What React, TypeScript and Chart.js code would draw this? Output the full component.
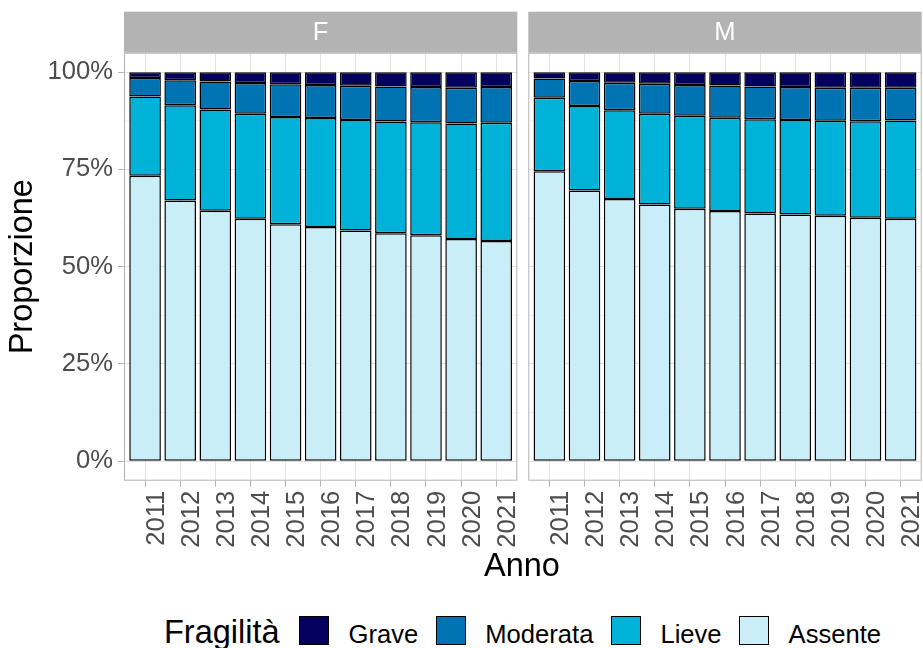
import React, { useEffect, useRef } from "react";
import { Chart, registerables } from "chart.js";

Chart.register(...registerables);

// ---------- data ----------
const years = ["2011", "2012", "2013", "2014", "2015", "2016", "2017", "2018", "2019", "2020", "2021"];
const levels = ["Grave", "Moderata", "Lieve", "Assente"];
const levelColors = ["#03005E", "#0073B2", "#00B2D8", "#C9EEF7"];

// Panel F (percent)
const fAssente = [73.4, 67.0, 64.4, 62.3, 60.9, 60.2, 59.3, 58.6, 58.1, 57.1, 56.6];
const fLieve = [20.35, 24.5, 26.0, 27.0, 27.6, 28.0, 28.4, 28.7, 29.0, 29.7, 30.4];
const fModerata = [4.75, 6.4, 7.2, 7.9, 8.4, 8.5, 8.8, 9.0, 9.1, 9.2, 9.2];
const fGrave = [1.5, 2.1, 2.4, 2.8, 3.1, 3.3, 3.5, 3.7, 3.8, 4.0, 3.8];

// Panel M (percent)
const mAssente = [74.5, 69.6, 67.4, 66.0, 64.9, 64.3, 63.7, 63.4, 63.1, 62.6, 62.3];
const mLieve = [18.9, 21.7, 22.8, 23.3, 23.9, 24.0, 24.2, 24.3, 24.4, 24.8, 25.3];
const mModerata = [5.0, 6.4, 7.1, 7.7, 7.9, 8.3, 8.4, 8.5, 8.5, 8.6, 8.4];
const mGrave = [1.6, 2.3, 2.7, 3.0, 3.3, 3.4, 3.7, 3.8, 4.0, 4.0, 4.0];

const yGridTicks = [0, 12.5, 25, 37.5, 50, 62.5, 75, 87.5, 100];
const yLabelTicks = [0, 25, 50, 75, 100];

const FONT = "'Liberation Sans', Arial, sans-serif";
const TICK_SIZE = 25.6;
const TITLE_SIZE = 32.5;
const GRID_MAJOR = "#E2E2E2";
const GRID_MINOR = "#EFEFEF";
const GREY70 = "#B3B3B3";
const TEXT_GREY = "#4D4D4D";

const CANVAS_H = 560;
const PANEL_TOP = 52.7;
const PANEL_BOTTOM = 480.7;
const STRIP_TOP = 11.7;

type PanelProps = {
  label: string;
  assente: number[];
  lieve: number[];
  moderata: number[];
  grave: number[];
  left: number;
  width: number;
  areaLeft: number;
  areaRight: number;
  showY: boolean;
};

function Panel(p: PanelProps) {
  const ref = useRef<HTMLCanvasElement | null>(null);

  useEffect(() => {
    if (!ref.current) return;
    const series = [
      { name: "Assente", values: p.assente, color: levelColors[3] },
      { name: "Lieve", values: p.lieve, color: levelColors[2] },
      { name: "Moderata", values: p.moderata, color: levelColors[1] },
      { name: "Grave", values: p.grave, color: levelColors[0] },
    ];

    const panelPlugin = {
      id: "panel" + p.label,
      beforeDraw(chart: any) {
        const { ctx, chartArea: a } = chart;
        ctx.save();
        ctx.fillStyle = "#ffffff";
        ctx.fillRect(0, 0, chart.width, chart.height);
        ctx.fillStyle = GREY70;
        ctx.fillRect(a.left, STRIP_TOP, a.right - a.left, a.top - STRIP_TOP);
        ctx.fillStyle = "#ffffff";
        ctx.font = `${TICK_SIZE}px ${FONT}`;
        ctx.textAlign = "center";
        ctx.textBaseline = "middle";
        ctx.fillText(p.label, (a.left + a.right) / 2, (STRIP_TOP + a.top) / 2 + 1);
        ctx.restore();
      },
      afterDatasetsDraw(chart: any) {
        const { ctx, chartArea: a } = chart;
        ctx.save();
        ctx.strokeStyle = GREY70;
        ctx.lineWidth = 1;
        ctx.strokeRect(a.left + 0.5, a.top + 0.5, a.right - a.left - 1, a.bottom - a.top - 1);
        ctx.restore();
      },
    };

    const chart = new Chart(ref.current, {
      type: "bar",
      data: {
        datasets: series.map((s) => ({
          label: s.name,
          data: s.values.map((v, i) => ({ x: i + 1, y: v })),
          backgroundColor: s.color,
          borderColor: "#000000",
          borderWidth: 1.5,
          borderSkipped: false,
          barPercentage: 0.9,
          categoryPercentage: 1.0,
        })),
      },
      options: {
        animation: false,
        responsive: false,
        events: [],
        layout: {
          autoPadding: false,
          padding: {
            top: PANEL_TOP,
            left: 0,
            right: p.width - p.areaRight,
            bottom: 0,
          },
        },
        plugins: {
          legend: { display: false },
          tooltip: { enabled: false },
          title: { display: false },
        },
        scales: {
          x: {
            type: "linear",
            min: 0.4,
            max: 11.6,
            offset: false,
            stacked: true,
            border: { display: false },
            afterBuildTicks: (axis: any) => {
              axis.ticks = years.map((_, i) => ({ value: i + 1 }));
            },
            afterFit: (s: any) => {
              s.height = CANVAS_H - PANEL_BOTTOM;
              s.paddingLeft = 0;
              s.paddingRight = 0;
            },
            grid: {
              offset: false,
              color: GRID_MAJOR,
              lineWidth: 1,
              tickColor: GREY70,
              tickLength: 6,
              drawTicks: true,
            },
            ticks: {
              autoSkip: false,
              minRotation: 90,
              maxRotation: 90,
              padding: 4,
              labelOffset: 11.5,
              color: TEXT_GREY,
              font: { family: FONT, size: TICK_SIZE },
              callback: (v: any) => years[Math.round(Number(v)) - 1] ?? "",
            },
          },
          y: {
            type: "linear",
            min: -5,
            max: 105,
            stacked: true,
            border: { display: false },
            afterBuildTicks: (axis: any) => {
              axis.ticks = yGridTicks.map((v) => ({ value: v }));
            },
            afterFit: (s: any) => {
              s.width = p.areaLeft;
              s.paddingTop = 0;
              s.paddingBottom = 0;
            },
            grid: {
              color: (c: any) => (yLabelTicks.includes(c.tick?.value) ? GRID_MAJOR : GRID_MINOR),
              lineWidth: (c: any) => (yLabelTicks.includes(c.tick?.value) ? 1 : 0.7),
              tickColor: (c: any) => (yLabelTicks.includes(c.tick?.value) ? GREY70 : "rgba(0,0,0,0)"),
              tickLength: 6,
              drawTicks: p.showY,
            },
            ticks: {
              display: p.showY,
              autoSkip: false,
              padding: 5,
              color: TEXT_GREY,
              font: { family: FONT, size: TICK_SIZE },
              callback: (v: any) => (yLabelTicks.includes(Number(v)) ? `${v}%` : ""),
            },
            title: {
              display: p.showY,
              text: "Proporzione",
              color: "#000000",
              font: { family: FONT, size: TITLE_SIZE },
              padding: { top: 4, bottom: 4 },
            },
          },
        },
      },
      plugins: [panelPlugin],
    } as any);

    return () => chart.destroy();
  }, []);

  return (
    <canvas
      ref={ref}
      width={p.width}
      height={CANVAS_H}
      style={{ position: "absolute", left: p.left, top: 0, width: p.width, height: CANVAS_H }}
    />
  );
}

export default function App() {
  return (
    <div
      style={{
        position: "absolute",
        left: 0,
        top: 0,
        width: 923,
        height: 648,
        background: "#ffffff",
        overflow: "hidden",
        fontFamily: FONT,
      }}
    >
      <Panel
        label="F"
        assente={fAssente}
        lieve={fLieve}
        moderata={fModerata}
        grave={fGrave}
        left={0}
        width={521}
        areaLeft={124}
        areaRight={517.3}
        showY={true}
      />
      <Panel
        label="M"
        assente={mAssente}
        lieve={mLieve}
        moderata={mModerata}
        grave={mGrave}
        left={521}
        width={402}
        areaLeft={7.3}
        areaRight={400.7}
        showY={false}
      />
      <div
        style={{
          position: "absolute",
          left: 422,
          width: 200,
          top: 549,
          textAlign: "center",
          fontSize: TITLE_SIZE,
          lineHeight: "32px",
          color: "#000",
        }}
      >
        Anno
      </div>
      <div
        style={{
          position: "absolute",
          left: 164,
          top: 616,
          display: "flex",
          alignItems: "flex-start",
          whiteSpace: "nowrap",
        }}
      >
        <span style={{ fontSize: TITLE_SIZE, lineHeight: "32px", color: "#000", marginRight: 19.5 }}>
          Fragilità
        </span>
        {levels.map((lv, i) => (
          <React.Fragment key={lv}>
            <span
              style={{
                display: "inline-block",
                boxSizing: "border-box",
                width: 30,
                height: 29,
                background: levelColors[i],
                border: "1px solid #000",
                marginRight: 19.5,
              }}
            />
            <span
              style={{
                fontSize: TICK_SIZE,
                lineHeight: "32px",
                marginTop: 2,
                color: "#000",
                marginRight: i < levels.length - 1 ? 17.5 : 0,
              }}
            >
              {lv}
            </span>
          </React.Fragment>
        ))}
      </div>
    </div>
  );
}
